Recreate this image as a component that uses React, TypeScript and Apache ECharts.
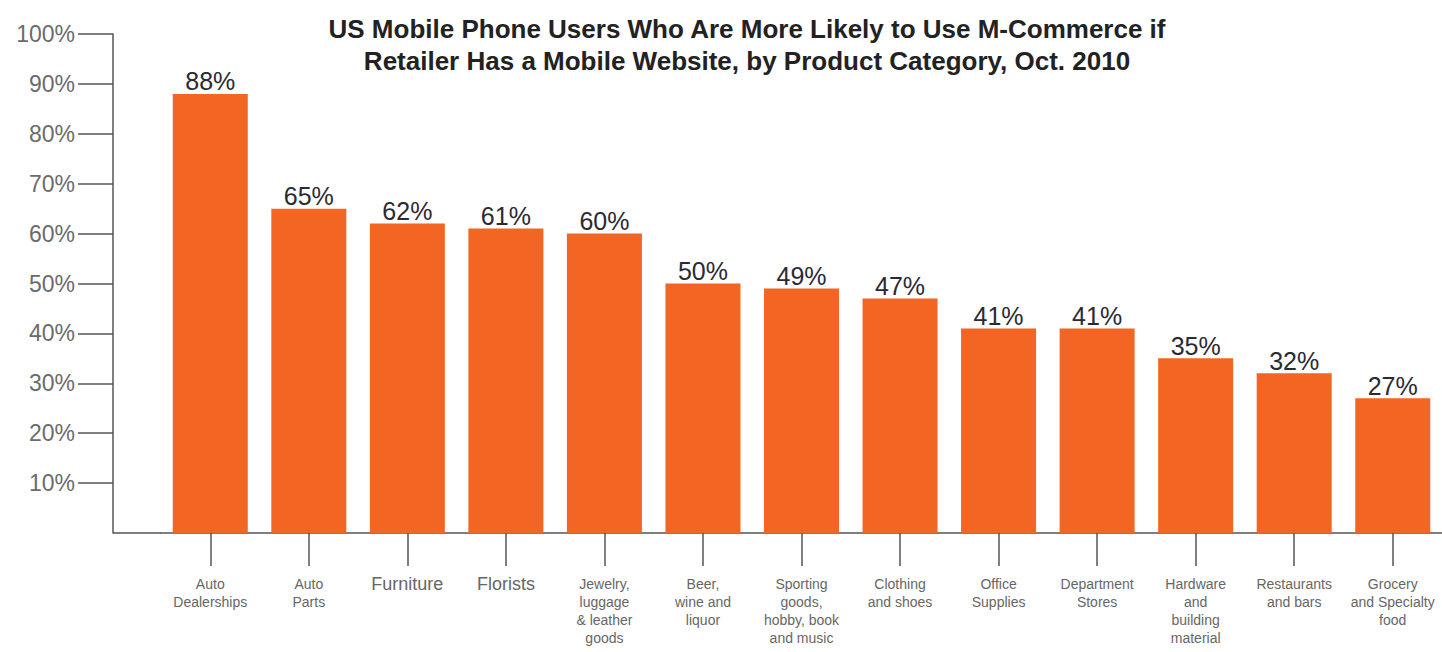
import React, { useEffect, useRef } from "react";
import * as echarts from "echarts";

const categories: string[] = [
  "Auto\nDealerships",
  "Auto\nParts",
  "Furniture",
  "Florists",
  "Jewelry,\nluggage\n& leather\ngoods",
  "Beer,\nwine and\nliquor",
  "Sporting\ngoods,\nhobby, book\nand music",
  "Clothing\nand shoes",
  "Office\nSupplies",
  "Department\nStores",
  "Hardware\nand\nbuilding\nmaterial",
  "Restaurants\nand bars",
  "Grocery\nand Specialty\nfood",
];
const values: number[] = [88, 65, 62, 61, 60, 50, 49, 47, 41, 41, 35, 32, 27];
const yTicks: number[] = [10, 20, 30, 40, 50, 60, 70, 80, 90, 100];
const bigLabels: string[] = ["Furniture", "Florists"];

const TITLE =
  "US Mobile Phone Users Who Are More Likely to Use M-Commerce if\nRetailer Has a Mobile Website, by Product Category, Oct. 2010";

export default function App() {
  const ref = useRef<HTMLDivElement>(null);
  useEffect(() => {
    if (!ref.current) return;
    const chart = echarts.init(ref.current, undefined, { renderer: "svg" });
    const axisColor = "#555555";
    chart.setOption({
      animation: false,
      backgroundColor: "#ffffff",
      title: {
        text: TITLE,
        left: 742,
        top: 8,
        textAlign: "center",
        textStyle: {
          fontFamily: "'Liberation Sans', Arial, sans-serif",
          fontWeight: "bold",
          fontSize: 26,
          lineHeight: 32,
          color: "#222222",
        },
      },
      grid: { left: 161, right: 0, top: 34, bottom: 119 },
      xAxis: {
        type: "category",
        data: categories,
        axisLine: { show: true, lineStyle: { color: axisColor, width: 1.5 } },
        axisTick: {
          show: true,
          alignWithLabel: true,
          length: 33,
          lineStyle: { color: axisColor, width: 1.5 },
        },
        axisLabel: {
          interval: 0,
          margin: 42,
          color: "#666666",
          fontFamily: "'Liberation Sans', Arial, sans-serif",
          fontSize: 14,
          lineHeight: 18,
          formatter: (v: string) => (bigLabels.indexOf(v) >= 0 ? `{b|${v}}` : v),
          rich: {
            b: {
              fontSize: 18,
              color: "#666666",
              fontFamily: "'Liberation Sans', Arial, sans-serif",
            },
          },
        },
      },
      yAxis: {
        type: "value",
        min: 0,
        max: 100,
        interval: 10,
        offset: 48,
        splitLine: { show: false },
        axisLine: { show: true, lineStyle: { color: axisColor, width: 1.5 } },
        axisTick: {
          show: true,
          inside: false,
          length: 35,
          customValues: yTicks,
          lineStyle: { color: axisColor, width: 1.5 },
        },
        axisLabel: {
          margin: 38,
          customValues: yTicks,
          formatter: "{value}%",
          color: "#6b6b6b",
          fontFamily: "'Liberation Sans', Arial, sans-serif",
          fontSize: 23,
        },
      },
      series: [
        {
          type: "bar",
          data: values,
          barWidth: 75,
          itemStyle: { color: "#F26522" },
          label: {
            show: true,
            position: "top",
            distance: 0,
            formatter: "{c}%",
            color: "#2a2a33",
            fontFamily: "'Liberation Sans', Arial, sans-serif",
            fontSize: 25,
          },
        },
      ],
      graphic: [
        {
          type: "line",
          shape: { x1: 113, y1: 533, x2: 161, y2: 533 },
          style: { stroke: axisColor, lineWidth: 1.5 },
        },
      ],
    });
    return () => chart.dispose();
  }, []);
  return (
    <div
      ref={ref}
      style={{ position: "absolute", left: 0, top: 0, width: 1442, height: 652 }}
    />
  );
}
